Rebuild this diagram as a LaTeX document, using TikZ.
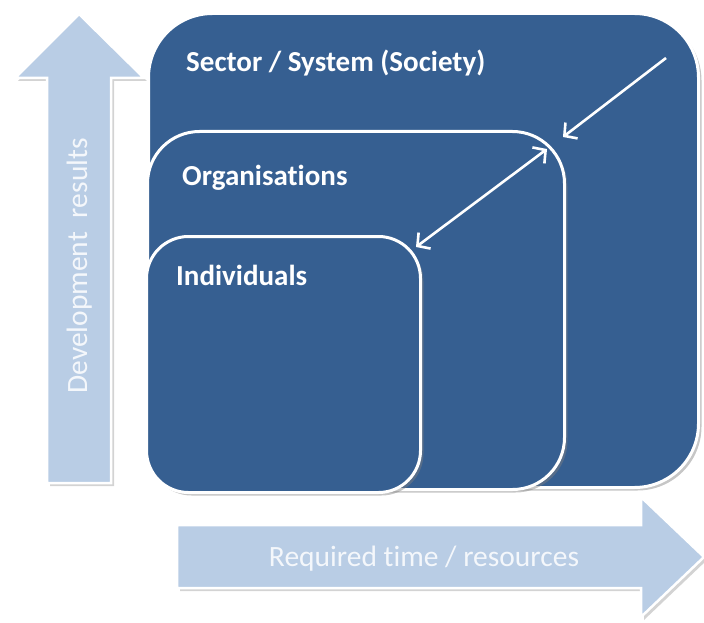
\documentclass[tikz,border=0pt]{standalone}
\usepackage{fontspec}
\setmainfont{Carlito}[Ligatures={NoCommon}]
\usetikzlibrary{arrows.meta,shadows}
\definecolor{boxblue}{HTML}{365F91}
\definecolor{arrowblue}{HTML}{B9CDE5}
\definecolor{arrowtext}{HTML}{F4F7FB}
\tikzset{
  box/.style={draw=white, line width=3pt, fill=boxblue, rectangle, anchor=north west,
    inner sep=0pt, drop shadow={shadow xshift=3pt, shadow yshift=-3pt, opacity=0.45}},
  bigarrow/.style={draw=white, line width=2.5pt, fill=arrowblue, line join=miter,
    drop shadow={shadow xshift=3pt, shadow yshift=-3pt, opacity=0.35}},
  boxlabel/.style={text=white, font=\bfseries\fontsize{29}{34}\selectfont, anchor=base west, inner sep=0pt},
  arrowlabel/.style={text=arrowtext, font=\fontsize{29.5}{34}\selectfont, inner sep=0pt},
  wline/.style={draw=white, line width=2.6pt},
  whead/.style={-{Straight Barb[length=9pt,width=20pt,line width=2.6pt]}},
  wheads/.style={{Straight Barb[length=9pt,width=20pt,line width=2.6pt]}-{Straight Barb[length=9pt,width=20pt,line width=2.6pt]}}
}
\begin{document}
\begin{tikzpicture}[x=1pt,y=-1pt]
\useasboundingbox (0,0) rectangle (704,623);
% big arrows
\filldraw[bigarrow] (47,483) -- (47,78) -- (15,78) -- (79,14) -- (144,78) -- (111,78) -- (111,483) -- cycle;
\filldraw[bigarrow] (177,525) -- (641,525) -- (641,497) -- (704,557) -- (641,617) -- (641,588) -- (177,588) -- cycle;
\node[arrowlabel, rotate=90, anchor=base] (dev) at (87,266) {Development\hspace{0.25em} results};
\node[arrowlabel, anchor=base] (req) at (424,566) {Required time / resources};
% boxes
\node[box, rounded corners=64pt, minimum width=550pt, minimum height=474pt] (sector) at (147,12) {};
\node[box, rounded corners=52pt, minimum width=417pt, minimum height=358pt] (org) at (146,130) {};
\node[box, rounded corners=42pt, minimum width=274pt, minimum height=256pt] (ind) at (145,235) {};
\node[boxlabel] (sl) at (186,72) {Sector / System (Society)};
\node[boxlabel] (ol) at (182,185) {Organisations};
\node[boxlabel] (il) at (176,285) {Individuals};
% white arrows
\coordinate (a1) at (666,58);
\coordinate (a2) at (563,137);
\coordinate (b1) at (547,149);
\coordinate (b2) at (416,247);
\draw[wline, whead] (a1) -- (a2);
\draw[wline, wheads] (b1) -- (b2);
\end{tikzpicture}
\end{document}
